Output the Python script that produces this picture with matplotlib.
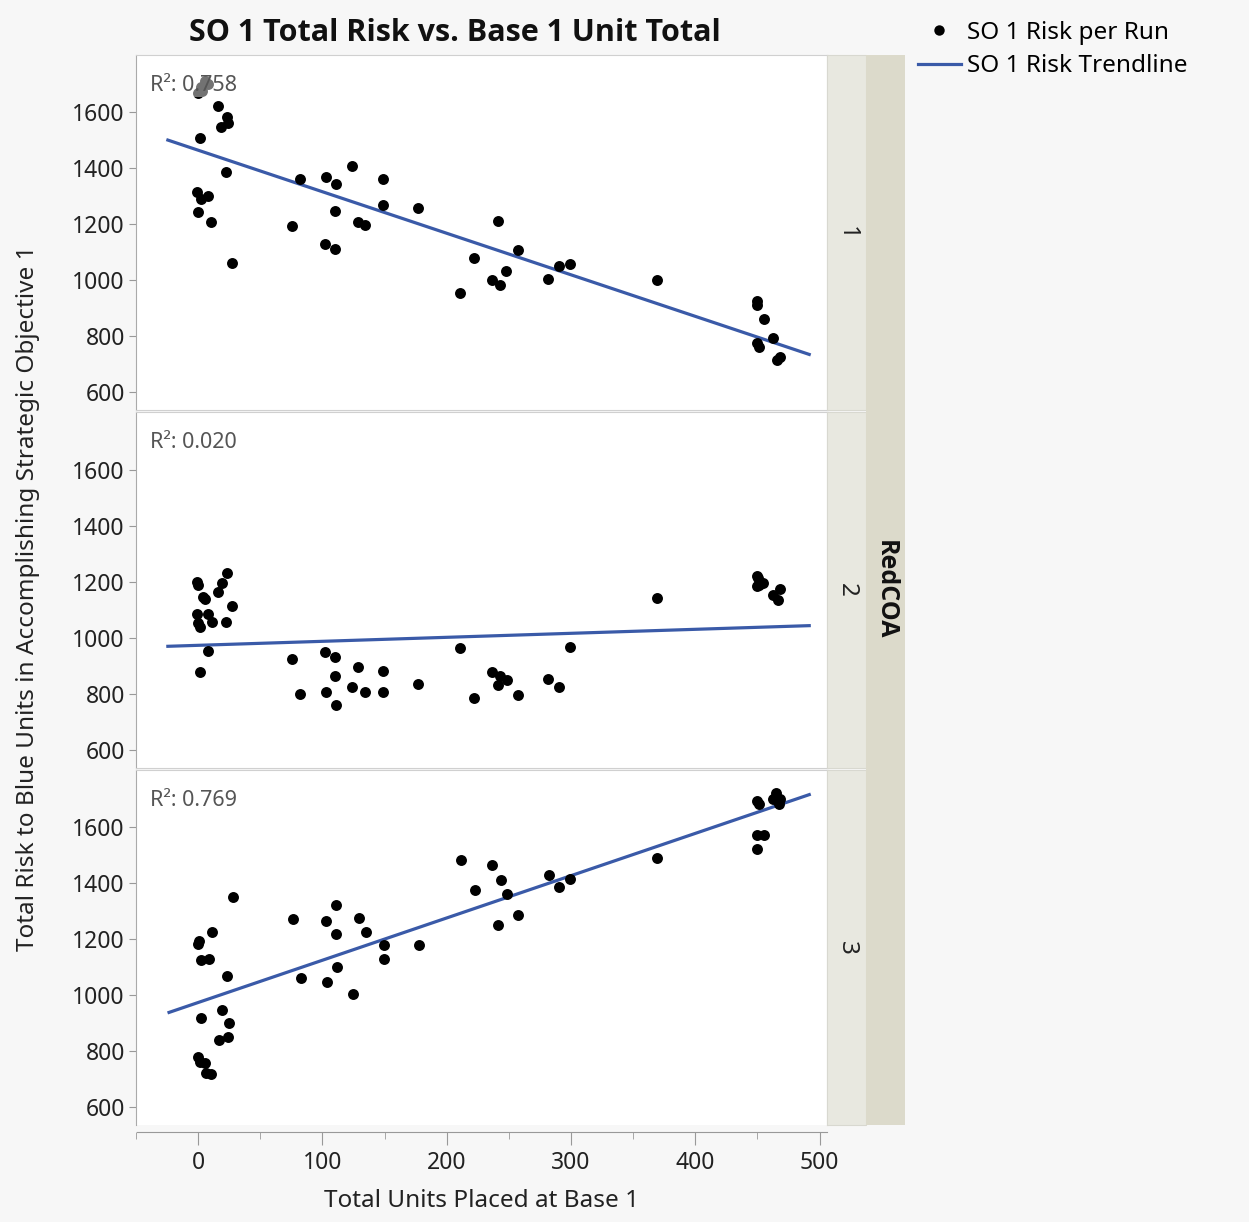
import numpy as np
import matplotlib
matplotlib.use("Agg")
import matplotlib.pyplot as plt
from matplotlib.lines import Line2D
from matplotlib.patches import Rectangle

plt.rcParams['font.family'] = ['Noto Sans', 'DejaVu Sans']
BOLD_FAMILY = ['Open Sans', 'Lato', 'DejaVu Sans']

# ---------------- data ----------------
panel_labels = ["1", "2", "3"]
r2_labels = ["0.758", "0.020", "0.769"]

top_x = [1, 3, 4, 6.5, 9,
         16.6, 23.8, 25, 19.3, 2.4, 23.5, 0, 3, 9, 0.5, 11.5, 28,
         76.6, 82.7, 103.6, 111.6, 124.5, 149.7, 149.7, 110.6, 129.6, 135, 177.5,
         102.5, 111, 222.5, 211.5, 241.5, 257.6, 248.5, 236.7, 243.4, 282.3, 290.5,
         299.6, 369.2,
         449.5, 449.5, 455.7, 462.4, 449.5, 451.4, 465.6, 468.3]
top_y = [1670, 1690, 1678, 1712, 1700,
         1621, 1583, 1562, 1548, 1508, 1388, 1314, 1289, 1302, 1243, 1208, 1063,
         1193, 1363, 1368, 1343, 1409, 1363, 1268, 1249, 1208, 1198, 1257,
         1128, 1113, 1079, 954, 1213, 1108, 1032, 999, 982, 1004, 1050,
         1057, 1002,
         924, 911, 862, 793, 774, 762, 714, 724]

mid_x = [0, 0.5, 19.8, 24, 16.6, 4.5, 6.7, 28, 0, 8.6, 11.8, 23.5, 0.5, 2.7, 8.6, 2.7,
         76.6, 82.7, 102.5, 111, 111, 103.6, 111.6, 124.5, 129.6, 135, 149.7, 149.7,
         177.5, 211.5, 222.5, 236.7, 243.4, 248.8, 241.5, 257.6, 282.3, 290.5, 299.6,
         369.2,
         449.5, 449.5, 454.9, 468.3, 462.9, 466.9, 451, 450.5]
mid_y = [1199, 1187, 1195, 1232, 1162, 1147, 1140, 1112, 1085, 1085, 1057, 1057, 1054, 1037, 952, 877,
         923, 801, 949, 931, 865, 807, 762, 826, 896, 807, 882, 807,
         837, 962, 787, 877, 865, 850, 831, 796, 852, 826, 967,
         1142,
         1222, 1183, 1195, 1174, 1154, 1136, 1190, 1215]

bot_x = [28, 11.5, 0, 0.5, 2.4, 9, 23.5, 19.3, 2.4, 24.6, 16.6, 23.8, 0, 1.6, 5.6, 6.4, 10,
         76.6, 102.5, 110.6, 129.6, 135, 110.6, 149.7, 149.7, 177.5, 82.7, 111.6, 103.6,
         124.5, 211.5, 222.5, 236.7, 243.4, 248.8, 241.5, 257.6, 282.3, 290.5, 299.6,
         369.2,
         449.5, 451.6, 449.5, 455.7, 449.5, 465, 462.4, 468.3, 467]
bot_y = [1351, 1226, 1182, 1192, 1125, 1131, 1067, 946, 917, 900, 839, 851, 778, 760, 757, 721, 719,
         1271, 1265, 1321, 1276, 1226, 1217, 1179, 1131, 1179, 1061, 1101, 1046,
         1006, 1482, 1376, 1466, 1412, 1362, 1251, 1287, 1431, 1386, 1417,
         1490,
         1694, 1682, 1571, 1571, 1521, 1724, 1702, 1700, 1682]

xs = [top_x, mid_x, bot_x]
ys = [top_y, mid_y, bot_y]

y_ticks = [600, 800, 1000, 1200, 1400, 1600]
x_ticks = [0, 100, 200, 300, 400, 500]

# ---------------- figure ----------------
W, H = 1249, 1222
fig = plt.figure(figsize=(W / 100, H / 100), dpi=100, facecolor='#f7f7f7')

def fx(px):
    return px / W

def fy(py):
    return 1 - py / H

TICK_FS = 16.5
LABEL_FS = 17.5
left, right = 136, 827
panels_px = [(55, 410), (412, 768), (770, 1125)]
blue = '#3a5aa8'
axes = []
for i, (t, b) in enumerate(panels_px):
    ax = fig.add_axes([fx(left), fy(b), fx(right) - fx(left), (b - t) / H])
    ax.set_facecolor('white')
    x = np.array(xs[i], dtype=float)
    y = np.array(ys[i], dtype=float)
    ax.scatter(x, y, s=62, color='black', linewidths=0, zorder=3)
    slope, icpt = np.polyfit(x, y, 1)
    span = x.max() - x.min()
    lx = np.array([x.min() - 0.05 * span, x.max() + 0.05 * span])
    ax.plot(lx, slope * lx + icpt, color=blue, lw=2.3, zorder=2)
    ax.text(0.02, 0.915, "R²: " + r2_labels[i], transform=ax.transAxes,
            fontsize=15.5, color='#555555', va='center', ha='left', zorder=5,
            bbox=dict(boxstyle='square,pad=0.05', facecolor='white', alpha=0.45,
                      edgecolor='none'))
    ax.set_xlim(-49, 506)
    ax.set_ylim(536, 1805)
    ax.set_yticks(y_ticks)
    ax.set_xticks(x_ticks)
    ax.tick_params(axis='y', labelsize=TICK_FS, length=5, color='#999999',
                   labelcolor='#222222', pad=3)
    for sp in ['top', 'right']:
        ax.spines[sp].set_color('#d0d0d0')
    ax.spines['left'].set_color('#aaaaaa')
    ax.spines['bottom'].set_color('#d0d0d0')
    if i < 2:
        ax.tick_params(axis='x', bottom=False, labelbottom=False)
    else:
        ax.set_xticks([-50, 50, 150, 250, 350, 450], minor=True)
        ax.tick_params(axis='x', which='major', labelsize=TICK_FS, length=9,
                       color='#999999', labelcolor='#222222', pad=5)
        ax.tick_params(axis='x', which='minor', length=5, color='#999999')
        ax.spines['bottom'].set_position(('outward', 5))
        ax.spines['bottom'].set_color('#999999')
        ax.spines['bottom'].set_bounds(-49, 506)
        ax.set_xlabel("Total Units Placed at Base 1", fontsize=LABEL_FS,
                      color='#222222', labelpad=10)
    axes.append(ax)
    # inner strip
    fig.patches.append(Rectangle((fx(827), fy(b)), fx(866) - fx(827), (b - t) / H,
                                 transform=fig.transFigure, facecolor='#e8e8e0',
                                 edgecolor='#d8d8d0', lw=0.8, zorder=1))
    fig.text(fx(846.5), fy((t + b) / 2), panel_labels[i], rotation=270,
             ha='center', va='center', fontsize=LABEL_FS, color='#222222')

# outer strip
fig.patches.append(Rectangle((fx(866), fy(1125)), fx(905) - fx(866), (1125 - 55) / H,
                             transform=fig.transFigure, facecolor='#dcdacb',
                             edgecolor='none', zorder=1))
fig.text(fx(885.5), fy(590), "RedCOA", rotation=270, ha='center', va='center',
         fontsize=18, fontweight='bold', family=BOLD_FAMILY, color='#111111')

# title
fig.text(fx(455), fy(33), "SO 1 Total Risk vs. Base 1 Unit Total", ha='center',
         va='center', fontsize=22, fontweight='bold', family=BOLD_FAMILY,
         color='#111111')

# y label
fig.text(fx(28), fy(598), "Total Risk to Blue Units in Accomplishing Strategic Objective 1",
         rotation=90, ha='center', va='center', fontsize=LABEL_FS, color='#222222')

# legend
handles = [Line2D([], [], ls='none', marker='o', markersize=7.5, color='black',
                  markeredgewidth=0),
           Line2D([], [], color=blue, lw=2.3)]
fig.legend(handles, ["SO 1 Risk per Run", "SO 1 Risk Trendline"],
           loc='upper left', bbox_to_anchor=(fx(918), fy(21)), frameon=False,
           fontsize=LABEL_FS, handlelength=1.75, handletextpad=0.25, labelspacing=0.38,
           borderpad=0, borderaxespad=0)

fig.savefig("out.png", dpi=100, facecolor=fig.get_facecolor())
